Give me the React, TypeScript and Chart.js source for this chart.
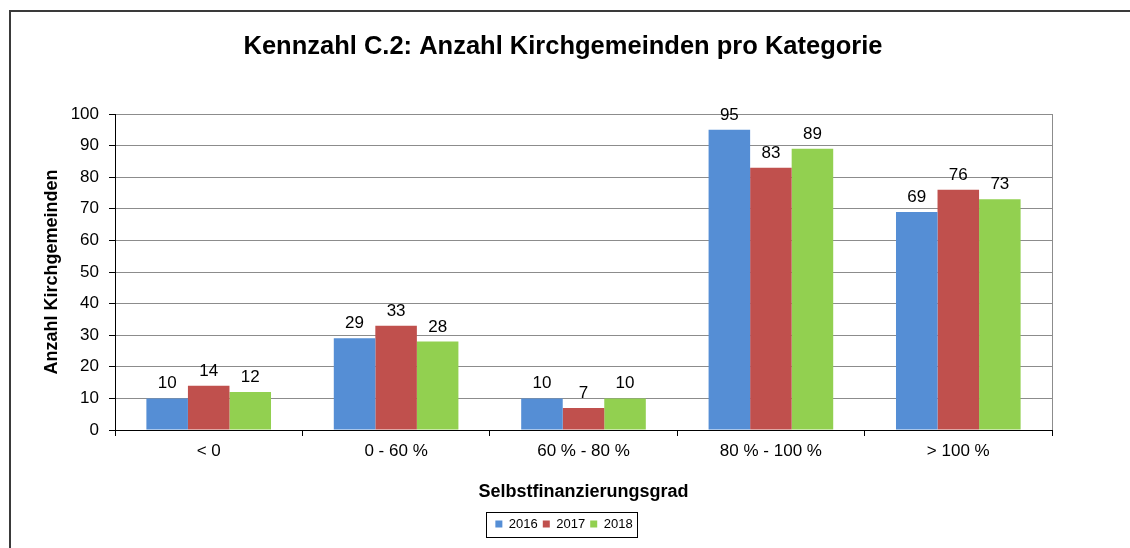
import React, { useEffect, useRef } from "react";
import { Chart, registerables } from "chart.js";

Chart.register(...registerables);

const categories = ["< 0", "0 - 60 %", "60 % - 80 %", "80 % - 100 %", "> 100 %"];
const years = ["2016", "2017", "2018"];
const values2016 = [10, 29, 10, 95, 69];
const values2017 = [14, 33, 7, 83, 76];
const values2018 = [12, 28, 10, 89, 73];
const yTicksMax = 100;
const yTickStep = 10;
const titleText = "Kennzahl C.2: Anzahl Kirchgemeinden pro Kategorie";

const FONT = "'Liberation Sans', Arial, Helvetica, sans-serif";
const COLORS = ["#558ED5", "#C0504D", "#92D050"];

const framePlugin = {
  id: "frame",
  beforeDraw(chart: any) {
    const { ctx, width, height } = chart;
    ctx.save();
    ctx.fillStyle = "#ffffff";
    ctx.fillRect(0, 0, width, height);
    ctx.strokeStyle = "#3a3a3a";
    ctx.lineWidth = 2;
    ctx.beginPath();
    ctx.moveTo(10, height);
    ctx.lineTo(10, 11);
    ctx.lineTo(width, 11);
    ctx.stroke();
    // title
    ctx.fillStyle = "#000";
    ctx.font = `bold 25.5px ${FONT}`;
    ctx.textAlign = "center";
    ctx.textBaseline = "middle";
    ctx.fillText(titleText, 563, 47);
    ctx.restore();
  },
  afterLayout(chart: any) {
    const legend = chart.legend;
    if (legend) {
      legend.left += 38;
      legend.right += 38;
    }
  },
  afterDraw(chart: any) {
    const { ctx, chartArea, legend } = chart;
    ctx.save();
    // right border of the plot area
    ctx.strokeStyle = "#8c8c8c";
    ctx.lineWidth = 1;
    ctx.beginPath();
    ctx.moveTo(Math.round(chartArea.right) + 0.5, chartArea.top);
    ctx.lineTo(Math.round(chartArea.right) + 0.5, chartArea.bottom);
    ctx.stroke();
    // legend border
    if (legend && legend.legendHitBoxes && legend.legendHitBoxes.length) {
      const boxes = legend.legendHitBoxes;
      let l = Infinity, r = -Infinity, t = Infinity, b = -Infinity;
      boxes.forEach((h: any) => {
        l = Math.min(l, h.left);
        r = Math.max(r, h.left + h.width);
        t = Math.min(t, h.top);
        b = Math.max(b, h.top + h.height);
      });
      ctx.strokeStyle = "#000";
      ctx.lineWidth = 1;
      ctx.strokeRect(Math.round(l - 9) + 0.5, Math.round(t - 6) + 0.5, Math.round(r - l + 14), Math.round(b - t + 12));
    }
    ctx.restore();
  },
};

const dataLabelPlugin = {
  id: "dataLabels",
  afterDatasetsDraw(chart: any) {
    const { ctx } = chart;
    ctx.save();
    ctx.font = `17px ${FONT}`;
    ctx.fillStyle = "#000";
    ctx.textAlign = "center";
    ctx.textBaseline = "alphabetic";
    chart.data.datasets.forEach((ds: any, i: number) => {
      const meta = chart.getDatasetMeta(i);
      meta.data.forEach((el: any, j: number) => {
        ctx.fillText(String(ds.data[j]), el.x, el.y - 10);
      });
    });
    ctx.restore();
  },
};

export default function App() {
  const ref = useRef<HTMLCanvasElement | null>(null);
  useEffect(() => {
    document.body.style.margin = "0";
    const canvas = ref.current;
    if (!canvas) return;
    const chart = new Chart(canvas, {
      type: "bar",
      data: {
        labels: categories,
        datasets: [
          { label: years[0], data: values2016, backgroundColor: COLORS[0] },
          { label: years[1], data: values2017, backgroundColor: COLORS[1] },
          { label: years[2], data: values2018, backgroundColor: COLORS[2] },
        ],
      },
      options: {
        animation: false,
        responsive: false,
        devicePixelRatio: 1,
        layout: { padding: { left: 0, right: 78, top: 114, bottom: 7.5 } },
        datasets: { bar: { barPercentage: 1, categoryPercentage: 0.665 } } as any,
        plugins: {
          title: { display: false },
          legend: {
            position: "bottom",
            labels: {
              boxWidth: 7,
              boxHeight: 7,
              color: "#000",
              padding: 5,
              font: { family: FONT, size: 13 },
            },
          },
          tooltip: { enabled: false },
        },
        scales: {
          x: {
            grid: { offset: true, drawOnChartArea: false, drawTicks: true, tickLength: 6, tickColor: "#000" },
            border: { color: "#000", width: 1 },
            ticks: { color: "#000", padding: 5, font: { family: FONT, size: 17 } },
            title: {
              display: true,
              text: "Selbstfinanzierungsgrad",
              color: "#000",
              font: { family: FONT, size: 18, weight: "bold" },
              padding: { top: 0, bottom: 9.7 },
            },
            afterFit: (s: any) => {
              s.height = 82.5;
            },
          },
          y: {
            min: 0,
            max: yTicksMax,
            ticks: { stepSize: yTickStep, color: "#000", padding: 10, font: { family: FONT, size: 17 } },
            grid: { color: "#8c8c8c", tickColor: "#000", tickLength: 6 },
            border: { color: "#000", width: 1 },
            title: {
              display: true,
              text: "Anzahl Kirchgemeinden",
              color: "#000",
              font: { family: FONT, size: 18, weight: "bold" },
              padding: { top: 41, bottom: 0 },
            },
            afterFit: (s: any) => {
              s.width = 115;
            },
          },
        },
      },
      plugins: [framePlugin, dataLabelPlugin],
    });
    return () => chart.destroy();
  }, []);
  return <canvas ref={ref} width={1130} height={548} style={{ display: "block", width: 1130, height: 548 }} />;
}
